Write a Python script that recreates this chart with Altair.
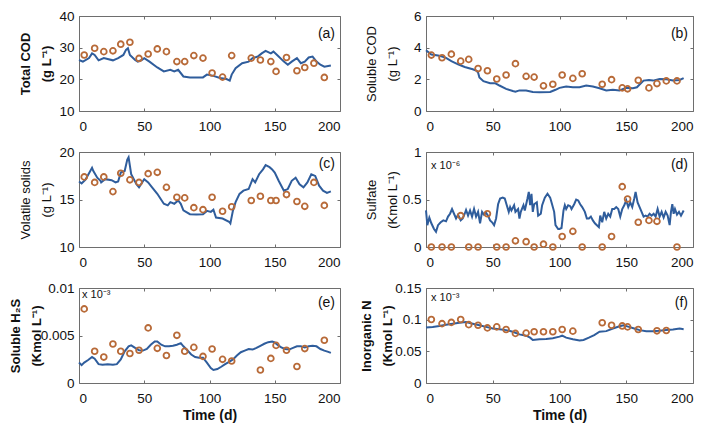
import altair as alt
import pandas as pd

# ---------------- data ----------------
# measured sampling days
T_abc = [4, 12, 19, 26, 32, 39, 46, 53, 60, 67, 75, 81, 88, 95, 102, 110, 117,
         132, 139, 147, 151, 159, 167, 173, 180, 188]
T_d = [4, 12, 19, 26, 32, 39, 46, 53, 60, 67, 75, 81, 88, 95, 102, 110, 117,
       132, 139, 147, 151, 159, 167, 173, 188]
T_e = [4, 12, 19, 26, 32, 39, 46, 53, 60, 67, 75, 81, 88, 95, 102, 110, 117,
       139, 147, 151, 159, 167, 173, 188]
T_f = [4, 12, 19, 26, 32, 39, 46, 53, 60, 67, 75, 81, 88, 95, 102, 110,
       132, 139, 147, 151, 159, 173, 180]

meas_a = [27.7, 29.8, 28.75, 29.0, 31.1, 31.7, 26.6, 28.0, 29.6, 28.75, 25.6, 25.6, 27.5,
          26.7, 22.0, 20.7, 27.5, 26.7, 26.1, 25.6, 22.5, 26.9, 22.7, 23.75, 25.1, 20.6]
meas_b = [3.53, 3.36, 3.59, 3.15, 3.26, 2.68, 2.54, 2.02, 2.27, 2.99, 2.19, 2.14, 1.59,
          1.69, 2.27, 2.06, 2.35, 1.69, 1.98, 1.46, 1.40, 1.94, 1.46, 1.73, 1.90, 1.90]
meas_c = [17.38, 16.8, 17.38, 15.83, 17.76, 17.07, 16.8, 17.72, 17.86, 16.28, 15.24, 15.17,
          14.14, 13.93, 15.24, 13.76, 14.24, 14.9, 15.34, 14.9, 14.9, 15.52, 14.79, 14.28,
          16.8, 14.38]
meas_d = [0, 0, 0, 0.33, 0, 0, 0.35, 0, 0, 0.065, 0.056, 0, 0.03, 0, 0.11, 0.165, 0,
          0, 0.11, 0.635, 0.505, 0.26, 0.28, 0.27, 0]
meas_e = [0.0078, 0.00334, 0.00273, 0.0041, 0.00334, 0.0031, 0.00345, 0.0058, 0.00365,
          0.0029, 0.00502, 0.00334, 0.00375, 0.0028, 0.00358, 0.00249, 0.00232, 0.00137,
          0.00259, 0.00396, 0.00345, 0.00174, 0.00362, 0.0045]
meas_f = [0.1003, 0.0937, 0.0957, 0.1003, 0.0921, 0.0911, 0.087, 0.0886, 0.0845, 0.0783,
          0.0788, 0.0809, 0.0809, 0.0809, 0.0845, 0.0819, 0.0952, 0.0911, 0.0901, 0.0886,
          0.0845, 0.0824, 0.0829]

# simulated curves
sim_a_t = [0, 3, 7.7, 10, 12, 15, 19, 26, 30, 34, 36, 37.5, 39, 43, 45, 48, 50, 54, 60, 65,
           70, 73, 76, 80, 85, 90, 95, 98, 103, 108, 113, 115.5, 117, 120, 125, 130, 133,
           137, 140, 143, 147, 149, 153, 157, 160, 163, 167, 170, 173, 176, 179, 182, 185,
           188, 193]
sim_a_v = [26.1, 25.6, 26.7, 28.2, 27.7, 26.0, 26.7, 26.0, 26.7, 27.7, 29.3, 29.8, 27.7,
           26.1, 25.6, 26.1, 26.7, 25.6, 23.75, 22.5, 23.0, 22.5, 23.0, 20.9, 20.6, 20.6,
           20.6, 21.5, 21.1, 20.4, 20.1, 19.6, 21.5, 23.5, 25.1, 25.6, 26.7, 27.2, 28.2,
           29.0, 28.2, 28.75, 27.2, 25.6, 24.6, 25.6, 26.7, 25.1, 25.6, 26.9, 27.2, 25.6,
           24.6, 24.0, 24.4]

sim_b_t = [0, 4, 9, 12, 15, 19, 24, 29, 35, 38, 39, 40, 43, 48, 52, 55, 60, 65, 67, 70, 75,
           80, 85, 93, 97, 100, 105, 110, 115, 120, 125, 130, 135, 140, 145, 150, 155, 158,
           160, 163, 167, 170, 175, 180, 185, 190, 193]
sim_b_v = [3.84, 3.57, 3.5, 3.44, 3.36, 3.15, 2.95, 2.78, 2.64, 2.54, 2.43, 2.12, 1.88,
           1.75, 1.75, 1.61, 1.4, 1.26, 1.22, 1.3, 1.3, 1.2, 1.18, 1.2, 1.34, 1.46, 1.55,
           1.5, 1.5, 1.61, 1.55, 1.44, 1.3, 1.34, 1.3, 1.46, 1.44, 1.5, 1.67, 1.92, 1.96,
           1.92, 2.02, 2.0, 1.92, 1.96, 2.08]

sim_c_t = [0, 2, 5, 10, 11, 14, 16.5, 17, 20, 25, 28, 30, 32, 35, 37, 38, 40, 44, 46, 50,
           53, 56, 60, 65, 68, 70, 73, 76, 78, 80, 85, 90, 95, 98, 101, 103, 105, 110, 115,
           116, 118, 120, 123, 126, 130, 133, 135, 138, 141, 143, 146, 148, 150, 153, 157,
           160, 163, 166, 169, 172, 175, 178, 181, 184, 187, 190, 193]
sim_c_v = [16.9, 16.7, 17.1, 18.34, 18.0, 17.3, 16.97, 16.8, 17.14, 17.03, 16.8, 16.9,
           17.83, 18.0, 19.2, 19.45, 17.66, 16.6, 16.28, 17.14, 16.8, 16.28, 15.6, 14.55,
           14.38, 14.72, 14.55, 14.9, 14.55, 13.86, 13.45, 13.41, 13.45, 13.8, 13.7, 13.93,
           13.1, 13.0, 12.66, 12.48, 13.86, 14.72, 15.59, 15.93, 16.1, 17.14, 16.8, 17.66,
           18.17, 18.62, 18.4, 18.17, 17.83, 16.97, 15.93, 16.1, 16.97, 17.3, 16.6, 16.28,
           16.8, 17.66, 17.48, 16.45, 15.93, 15.69, 15.86]

sim_d_t = [0, 1, 2.5, 4, 6, 7.5, 9, 11, 13, 15, 16.5, 18, 19.5, 21, 22.5, 24, 26, 27.5, 29,
           30, 31.5, 33, 34.5, 36, 37.5, 39, 40.5, 42, 43.5, 45, 46.5, 48, 49.5, 51, 52.5,
           54, 55.5, 57.5, 59, 60.5, 62, 63, 64, 66, 67, 69, 70, 71, 73, 74, 76, 77, 78, 79,
           80, 81, 83, 84, 86, 87, 89, 91, 93, 94, 96, 97, 99, 100, 101.5, 103, 104, 105,
           106.5, 108, 109, 111, 112.5, 114, 115.5, 117, 119, 120.5, 122, 123.5, 125, 126.5,
           128, 129.5, 130.5, 132, 133.5, 135, 136.5, 138, 139.5, 141, 142.5, 144, 145.5,
           147, 148.5, 150, 151.5, 153, 154.5, 156, 157, 158.5, 160, 161.5, 163, 164.5, 166,
           167.5, 169, 170.5, 172, 173.5, 175, 176.5, 178, 179.5, 181, 182.5, 183.5, 184.5,
           185.5, 186.5, 188, 189.5, 191, 193]
sim_d_v = [0.385, 0.23, 0.31, 0.25, 0.19, 0.16, 0.23, 0.26, 0.28, 0.27, 0.32, 0.35, 0.40,
           0.35, 0.30, 0.34, 0.28, 0.30, 0.35, 0.39, 0.33, 0.385, 0.32, 0.40, 0.32, 0.37,
           0.25, 0.37, 0.34, 0.36, 0.33, 0.28, 0.26, 0.23, 0.30, 0.45, 0.51, 0.52, 0.51,
           0.44, 0.37, 0.42, 0.385, 0.44, 0.37, 0.40, 0.30, 0.37, 0.44, 0.385, 0.51, 0.58,
           0.44, 0.56, 0.37, 0.45, 0.47, 0.33, 0.35, 0.44, 0.52, 0.56, 0.52, 0.47, 0.37,
           0.23, 0.19, 0.19, 0.20, 0.385, 0.44, 0.40, 0.44, 0.43, 0.40, 0.45, 0.50, 0.49,
           0.45, 0.42, 0.37, 0.30, 0.30, 0.32, 0.28, 0.25, 0.23, 0.21, 0.33, 0.26, 0.37,
           0.30, 0.35, 0.32, 0.40, 0.40, 0.42, 0.40, 0.32, 0.40, 0.44, 0.49, 0.42, 0.47,
           0.42, 0.51, 0.58, 0.47, 0.42, 0.37, 0.32, 0.33, 0.32, 0.35, 0.33, 0.35, 0.32,
           0.40, 0.32, 0.37, 0.31, 0.37, 0.33, 0.23, 0.37, 0.45, 0.35, 0.40, 0.34, 0.37,
           0.33, 0.385]

sim_e_t = [0, 2, 4, 7, 10, 12, 15, 18, 22, 26, 29, 32, 35, 38, 40, 43, 46, 49, 52, 55, 58,
           60, 63, 66, 69, 72, 75, 78, 80, 83, 86, 89, 92, 95, 98, 101, 103, 106, 109, 112,
           115, 118, 121, 124, 127, 130, 133, 136, 139, 142, 145, 148, 150, 152, 155, 158,
           161, 164, 167, 170, 173, 176, 179, 182, 185, 188, 191, 193]
sim_e_v = [0.00215, 0.00188, 0.00215, 0.00242, 0.00273, 0.00256, 0.00198, 0.00191, 0.00198,
           0.00191, 0.00198, 0.00249, 0.00334, 0.00386, 0.00396, 0.00369, 0.00345, 0.00341,
           0.00358, 0.00403, 0.00437, 0.00437, 0.00403, 0.00386, 0.00386, 0.00392, 0.00403,
           0.0042, 0.00386, 0.00345, 0.003, 0.00273, 0.00266, 0.00266, 0.00215, 0.00157,
           0.00137, 0.00147, 0.00171, 0.00198, 0.00222, 0.00249, 0.0029, 0.00324, 0.00341,
           0.00358, 0.00352, 0.00369, 0.00392, 0.00413, 0.0043, 0.00437, 0.00427, 0.00403,
           0.00375, 0.00358, 0.00352, 0.00369, 0.00386, 0.00386, 0.00375, 0.00386, 0.00392,
           0.00386, 0.00358, 0.00341, 0.00328, 0.00317]

sim_f_t = [0, 5, 10, 15, 20, 25, 30, 35, 40, 45, 50, 55, 60, 65, 70, 75, 78, 80, 85, 90, 95,
           100, 102, 105, 110, 115, 118, 122, 126, 130, 135, 140, 145, 148, 152, 156, 160,
           165, 170, 175, 180, 185, 190, 193]
sim_f_v = [0.0875, 0.0886, 0.0901, 0.0921, 0.0937, 0.0952, 0.0962, 0.0937, 0.0911, 0.0886,
           0.086, 0.085, 0.0835, 0.0809, 0.0768, 0.0747, 0.0716, 0.068, 0.0691, 0.0696,
           0.0706, 0.0732, 0.0747, 0.0716, 0.0691, 0.067, 0.068, 0.0716, 0.0757, 0.0809,
           0.0819, 0.086, 0.0896, 0.0911, 0.0886, 0.086, 0.0835, 0.0819, 0.0819, 0.0824,
           0.0835, 0.0845, 0.086, 0.085]

X_TICKS = [0, 50, 100, 150, 200]

# ---------------- style ----------------
W1, W2, H = 261, 267, 95
LINE_COLOR = "#2F5D9C"
PT_COLOR = "#B86A38"
FONT = "Liberation Sans"


def panel(lt, lv, pt, pv, dom, yticks, title, bold, title_x, tag, tag_y, w,
          exp=None, exp_x=5, exp_y=12, xtitle=False):
    ldf = pd.DataFrame({"t": lt, "v": lv})
    pdf = pd.DataFrame({"t": pt, "v": pv})
    xenc = alt.X("t:Q", scale=alt.Scale(domain=[0, 200], nice=False),
                 axis=alt.Axis(values=X_TICKS, tickCount=12,
                               title="Time (d)" if xtitle else None,
                               titleFontWeight="bold", format="~r"))
    yenc = alt.Y("v:Q", scale=alt.Scale(domain=dom, nice=False, zero=False),
                 axis=alt.Axis(values=yticks, tickCount=12, title=title, format="~r",
                               titleX=title_x, gridDash=[3, w - 6, 3, 800],
                               titleFontWeight="bold" if bold else "normal"))
    line = alt.Chart(ldf).mark_line(color=LINE_COLOR, strokeWidth=2).encode(x=xenc, y=yenc)
    pts = alt.Chart(pdf).mark_point(shape="circle", filled=False, color=PT_COLOR,
                                    strokeWidth=1.8, size=34, opacity=1).encode(x="t:Q", y="v:Q")
    one = pd.DataFrame({"k": [0]})
    lab = alt.Chart(one).mark_text(text=tag, align="right", baseline="middle",
                                   fontSize=14, font=FONT, color="#111").encode(
        x=alt.value(w - 5), y=alt.value(tag_y))
    layers = [line, pts, lab]
    if exp:
        e = alt.Chart(one).mark_text(text=exp, align="left", baseline="middle",
                                     fontSize=11, font=FONT, color="#111").encode(
            x=alt.value(exp_x), y=alt.value(exp_y))
        layers.append(e)
    return alt.layer(*layers).properties(width=w, height=H)


pa = panel(sim_a_t, sim_a_v, T_abc, meas_a, [10, 40], [10, 20, 30, 40],
           ["Total COD", "(g L⁻¹)"], True, -47, "(a)", 18, W1)
pb = panel(sim_b_t, sim_b_v, T_abc, meas_b, [0, 6], [0, 2, 4, 6],
           ["Soluble COD", "(g L⁻¹)"], False, -48, "(b)", 18, W2)
pc = panel(sim_c_t, sim_c_v, T_abc, meas_c, [10, 20], [10, 15, 20],
           ["Volatile solids", "(g L⁻¹)"], False, -47, "(c)", 12, W1)
pd_ = panel(sim_d_t, sim_d_v, T_d, meas_d, [0, 1], [0, 0.5, 1],
            ["Sulfate", "(Kmol L⁻¹)"], False, -48, "(d)", 13, W2, exp="x 10⁻⁶", exp_y=14)
pe = panel(sim_e_t, sim_e_v, T_e, meas_e, [0, 0.01], [0, 0.005, 0.01],
           ["Soluble H₂S", "(Kmol L⁻¹)"], True, -57, "(e)", 15, W1, exp="x 10⁻³", exp_x=3,
           exp_y=7, xtitle=True)
pf = panel(sim_f_t, sim_f_v, T_f, meas_f, [0, 0.15], [0, 0.05, 0.1, 0.15],
           ["Inorganic N", "(Kmol L⁻¹)"], True, -53, "(f)", 15, W2, exp="x 10⁻³", exp_y=10,
           xtitle=True)

chart = alt.concat(pa, pb, pc, pd_, pe, pf, columns=2,
                   spacing={"row": 41, "column": 86}, bounds="flush").properties(
    padding={"left": 0, "top": 0, "right": 0, "bottom": 0}
).configure_view(
    stroke="#6E6E6E", strokeWidth=1
).configure_axis(
    labelFont=FONT, labelFontSize=13.5, labelColor="#111",
    titleFont=FONT, titleFontSize=13, titleColor="#111",
    titleLineHeight=21,
    domain=False, ticks=False, labelOverlap=False,
    grid=True, gridColor="#6E6E6E", gridOpacity=1, gridWidth=1,
).configure_axisX(
    labelPadding=8, titlePadding=4, gridDash=[3, H - 6, 3, 400], titleFontSize=14,
).configure_axisY(
    labelPadding=5,
)

chart.save("out.html", embed_options={"renderer": "svg", "actions": False})
